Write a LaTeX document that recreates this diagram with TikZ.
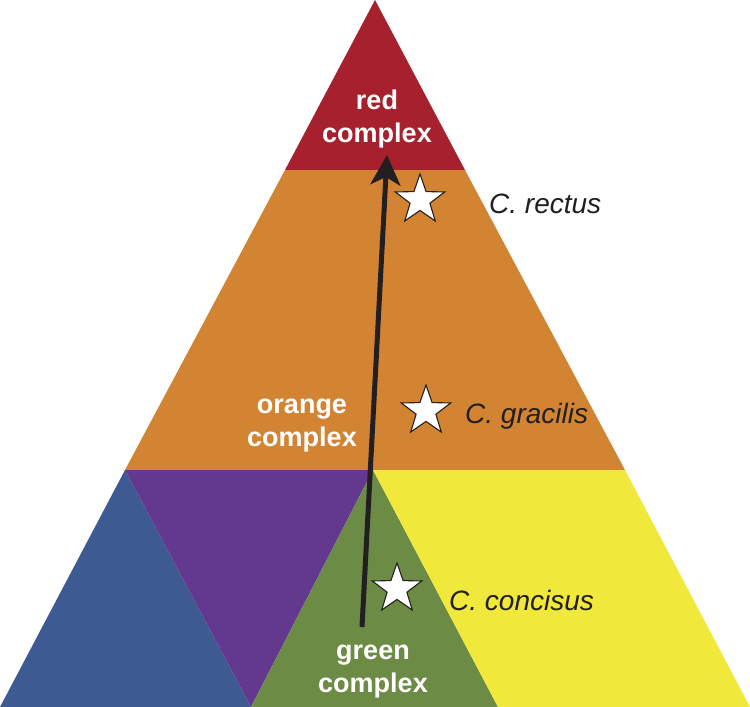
\documentclass[tikz,border=0pt]{standalone}
\usepackage{fontspec}
\setmainfont{Liberation Sans}
\usetikzlibrary{shapes.geometric,arrows.meta}
\definecolor{cred}{RGB}{166,33,45}
\definecolor{corange}{RGB}{211,132,50}
\definecolor{cblue}{RGB}{62,90,146}
\definecolor{cpurple}{RGB}{99,57,143}
\definecolor{cgreen}{RGB}{108,139,68}
\definecolor{cyellow}{RGB}{240,232,58}
\definecolor{cink}{RGB}{35,31,32}
\tikzset{
  complexlabel/.style={text=white, align=center, anchor=base,
    font=\fontsize{27}{32.5}\selectfont\bfseries, inner sep=0pt},
  species/.style={text=cink, anchor=base west, inner sep=0pt,
    font=\fontsize{28}{32}\selectfont\itshape},
  starmark/.style={star, star points=5, star point ratio=2.5, minimum size=52pt,
    inner sep=0pt, fill=white, draw=cink, line width=1.1pt},
  trend/.style={draw=cink, line width=5pt, -{Stealth[length=30pt,width=30pt,inset=8pt]}}
}
\begin{document}
\begin{tikzpicture}[x=1pt,y=-1pt]
\useasboundingbox (0,0) rectangle (750,707);
% regions
\fill[cred] (375,0) -- (285,170) -- (465,170) -- cycle;
\fill[corange] (285,170) -- (465,170) -- (625,470) -- (125,470) -- cycle;
\fill[cblue] (125,470) -- (0,707) -- (251,707) -- cycle;
\fill[cpurple] (125,470) -- (373,470) -- (251,707) -- cycle;
\fill[cgreen] (373,470) -- (251,707) -- (498,707) -- cycle;
\fill[cyellow] (373,470) -- (625,470) -- (750,707) -- (498,707) -- cycle;
% labels
\node[complexlabel] (red) at (377,142) {red\\complex};
\node[complexlabel] (orange) at (302,446) {orange\\complex};
\node[complexlabel] (green) at (373,692) {green\\complex};
% stars
\node[starmark] (s1) at (420,200) {};
\node[starmark] (s2) at (426,411) {};
\node[starmark] (s3) at (397,589) {};
% species
\node[species] (rectus) at (489,213) {C. rectus};
\node[species] (gracilis) at (465,423) {C. gracilis};
\node[species] (concisus) at (449,610) {C. concisus};
% arrow
\coordinate (abot) at (362,627);
\coordinate (atop) at (387,155);
\draw[trend] (abot) -- (atop);
\end{tikzpicture}
\end{document}
